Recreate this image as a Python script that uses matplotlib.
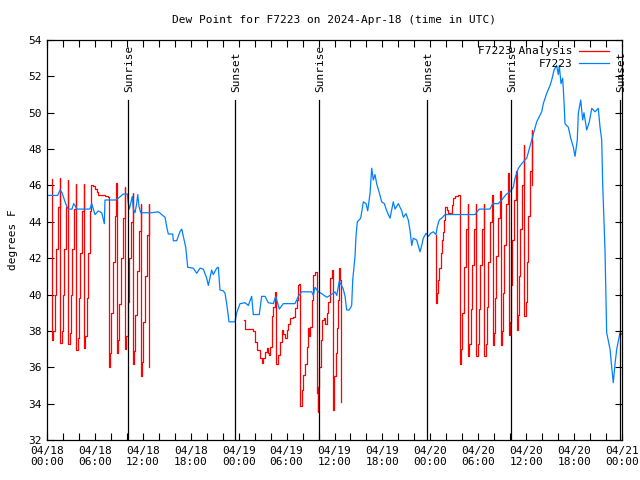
import matplotlib
matplotlib.use("Agg")
import matplotlib.pyplot as plt
from matplotlib.ticker import MultipleLocator, FixedLocator
from matplotlib.lines import Line2D

plt.rcParams['font.family'] = ['DejaVu Sans Mono']

title = "Dew Point for F7223 on 2024-Apr-18 (time in UTC)"
ylabel = "degrees F"

# x values are hours since 04/18 00:00 UTC
obs_hours = [0, 1.34, 1.63, 1.88, 2.34, 2.63, 3.13, 3.34, 3.51, 3.72, 5.38, 5.6, 6.01, 6.42, 6.85, 7.01,
             7.18, 7.26, 8.6, 8.93, 9.55, 10.06, 10.18, 10.31, 10.68, 10.81, 11.02, 11.23, 11.36, 11.52,
             11.73, 13.11, 13.94, 14.78, 14.99, 15.19, 15.74, 15.82, 16.24, 16.65, 16.87, 17.37, 17.62,
             18.32, 18.75, 19.16, 19.57, 20.0, 20.2, 20.62, 20.82, 21.25, 21.45, 21.66, 22.08, 22.29,
             22.5, 22.79, 23.54, 23.75, 24.17, 24.79, 25.21, 25.63, 25.83, 26.58, 26.88, 27.3, 27.71,
             28.34, 28.64, 29.09, 29.59, 31.05, 31.47, 31.89, 33.15, 33.35, 33.56, 33.97, 34.4, 35.02,
             35.44, 36.06, 36.28, 36.6, 37.1, 37.32, 37.53, 37.85, 38.15, 38.28, 38.57, 38.69, 38.86,
             39.28, 39.61, 39.95, 40.16, 40.45, 40.66, 40.86, 41.07, 41.28, 41.61, 41.91, 42.24, 42.54,
             42.95, 43.36, 43.58, 43.99, 44.42, 44.62, 44.95, 45.24, 45.45, 45.67, 45.87, 46.29, 46.49,
             46.71, 46.92, 47.12, 47.46, 47.75, 48.05, 48.37, 48.71, 48.87, 49.12, 49.42, 49.84, 53.6,
             54.13, 55.47, 55.81, 56.51, 56.94, 57.48, 57.98, 58.39, 58.6, 59.02, 59.44, 60.07, 60.69,
             61.32, 61.95, 62.15, 62.57, 62.99, 63.2, 63.49, 63.82, 64.02, 64.15, 64.36, 64.57, 64.74,
             64.86, 65.28, 65.58, 65.91, 66.12, 66.4, 66.53, 66.83, 67.08, 67.24, 67.58, 67.91, 68.21,
             68.62, 69.03, 69.25, 69.46, 69.58, 69.87, 70.08, 70.5, 70.71, 70.91, 71.13, 71.34, 71.75, 72.0]
obs_values = [45.45, 45.45, 45.75, 45.6, 45.0, 44.7, 44.7, 45.0, 44.9, 44.7, 44.7, 45.0, 44.4, 44.6, 44.5, 44.2,
              43.9, 45.2, 45.2, 45.3, 45.53, 45.53, 45.0, 44.7, 45.4, 44.7, 44.5, 45.0, 45.5, 44.85,
              44.5, 44.5, 44.55, 44.25, 43.73, 43.33, 43.33, 42.96, 42.96, 43.46, 43.6, 42.6, 41.5,
              41.45, 41.17, 41.45, 41.4, 40.9, 40.5, 41.35, 41.1, 41.45, 41.5, 40.25, 40.2, 40.07,
              39.5, 38.5, 38.5, 39.0, 39.5, 39.55, 39.4, 39.9, 38.9, 38.9, 39.9, 39.9, 39.55,
              39.5, 39.9, 39.2, 39.5, 39.5, 39.9, 40.15, 40.15, 39.95, 40.4, 40.15, 40.05, 39.85,
              39.95, 40.15, 39.95, 40.75, 40.3, 39.9, 39.15, 39.15, 39.4, 40.8, 42.1, 43.2, 44.0,
              44.2, 45.1, 45.0, 44.6, 45.57, 46.95, 46.3, 46.6, 46.1, 45.6, 45.1, 45.0, 44.6,
              44.2, 45.1, 44.7, 45.0, 44.6, 44.25, 44.45, 44.1, 43.55, 42.7, 43.1, 43.0, 42.7,
              42.35, 42.7, 43.1, 43.37, 43.2, 43.37, 43.45, 43.3, 43.73, 44.1, 44.2, 44.4, 44.4,
              44.7, 44.7, 45.0, 45.0, 45.2, 45.5, 45.66, 45.9, 46.4, 46.94, 47.2, 47.5, 48.5,
              49.5, 50.06, 50.5, 51.07, 51.5, 51.8, 52.35, 52.6, 52.1, 52.6, 51.6, 51.9, 50.6,
              49.4, 49.2, 48.6, 48.1, 47.6, 48.5, 49.97, 50.7, 49.6, 50.0, 49.05, 49.5, 50.24,
              50.05, 50.24, 49.2, 48.5, 46.1, 42.45, 37.9, 37.0, 36.0, 35.15, 36.2, 37.0, 37.9, 37.8]

ana1_hours = [0.62, 0.66, 0.8, 0.95, 1.15, 1.4, 1.65,
              1.69, 1.83, 1.98, 2.18, 2.43, 2.65,
              2.69, 2.83, 2.98, 3.18, 3.43, 3.65,
              3.69, 3.83, 3.98, 4.18, 4.43, 4.63,
              4.67, 4.81, 4.96, 5.16, 5.41, 5.57,
              5.8, 6.0, 6.2, 6.42, 6.85, 7.26, 7.7,
              7.76, 7.9, 8.05, 8.25, 8.5, 8.7,
              8.77, 8.91, 9.06, 9.26, 9.51, 9.74,
              9.8, 9.94, 10.09, 10.29, 10.54, 10.72,
              10.77, 10.91, 11.06, 11.26, 11.51, 11.72,
              11.77, 11.91, 12.06, 12.26, 12.51, 12.72,
              12.77]
ana1_values = [46.35, 37.5, 38.0, 40.0, 42.5, 44.8, 46.4,
               37.35, 38.0, 40.0, 42.5, 44.8, 46.3,
               37.3, 37.9, 40.0, 42.5, 44.7, 46.1,
               36.95, 37.6, 39.8, 42.3, 44.6, 46.1,
               37.05, 37.7, 39.8, 42.3, 44.6, 46.0,
               45.97, 45.8, 45.65, 45.5, 45.47, 45.4, 45.35,
               36.0, 36.8, 39.0, 41.8, 44.3, 46.15,
               36.8, 37.5, 39.5, 42.0, 44.2, 45.9,
               37.0, 37.7, 39.6, 42.0, 44.0, 45.6,
               36.2, 36.9, 38.9, 41.3, 43.5, 45.0,
               35.5, 36.3, 38.5, 41.0, 43.3, 45.0,
               36.0]

ana2_hours = [24.71, 24.79, 25.83, 26.05, 26.34, 26.67, 26.88, 27.08, 27.3, 27.59, 27.71, 27.84, 27.92,
              28.14, 28.34, 28.55, 28.68, 28.97, 29.18, 29.39, 29.59, 29.8, 30.01, 30.22, 30.43, 30.84,
              31.05, 31.27, 31.47, 31.6, 31.68, 31.89, 32.09, 32.31, 32.52, 32.72, 32.85, 32.93, 33.15,
              33.35, 33.56, 33.77, 33.9, 33.97, 34.1, 34.27, 34.47, 34.68, 34.81, 35.02, 35.22, 35.44,
              35.65, 35.77, 35.94, 36.19, 36.35, 36.48, 36.6, 36.75, 36.81]
ana2_values = [38.6, 38.1, 38.0, 37.4, 36.95, 36.5, 36.25, 36.5, 36.85, 37.05, 36.8, 36.7, 37.1,
               38.8, 39.33, 40.15, 36.2, 36.7, 37.4, 38.05, 37.85, 37.6, 38.05, 38.4, 38.7, 38.75,
               39.25, 39.7, 40.5, 40.6, 33.85, 34.75, 35.6, 36.2, 37.1, 38.15, 37.7, 38.2, 39.7,
               41.1, 41.26, 34.6, 33.55, 34.9, 36.0, 37.5, 38.6, 38.7, 38.4, 39.0, 39.6, 40.9,
               41.35, 33.65, 35.5, 36.8, 38.15, 39.7, 41.45, 40.8, 34.1]

ana3_hours = [48.67, 48.73, 48.87, 49.0, 49.12, 49.3, 49.42, 49.55, 49.71, 49.84, 50.05, 50.25, 50.55,
              50.68, 50.8, 51.09, 51.5, 51.68,
              51.71, 51.85, 52.0, 52.2, 52.45, 52.7,
              52.75, 52.89, 53.04, 53.24, 53.49, 53.72,
              53.78, 53.92, 54.07, 54.27, 54.52, 54.72,
              54.78, 54.92, 55.07, 55.27, 55.52, 55.73,
              55.79, 55.93, 56.08, 56.28, 56.53, 56.73,
              56.79, 56.93, 57.08, 57.28, 57.53, 57.73,
              57.79, 57.93, 58.08, 58.28, 58.53, 58.73,
              58.79, 58.93, 59.08, 59.28, 59.53, 59.73,
              59.79, 59.93, 60.08, 60.28, 60.53, 60.73,
              60.78]
ana3_values = [43.3, 39.55, 40.07, 40.8, 41.45, 42.3, 43.0, 43.46, 44.1, 44.83, 44.65, 44.5, 44.47,
               44.9, 45.3, 45.4, 45.47, 45.47,
               36.2, 37.0, 39.0, 41.5, 43.6, 45.0,
               36.6, 37.3, 39.2, 41.6, 43.6, 45.0,
               36.6, 37.3, 39.2, 41.6, 43.6, 45.0,
               36.6, 37.3, 39.3, 41.8, 44.0, 45.5,
               37.2, 37.9, 39.8, 42.1, 44.2, 45.7,
               37.2, 38.0, 40.1, 42.7, 45.0, 46.7,
               37.8, 38.5, 40.5, 43.0, 45.2, 46.8,
               38.05, 38.9, 41.0, 43.6, 46.0, 48.2,
               38.8, 39.6, 41.8, 44.3, 46.8, 49.05,
               46.0]

sun_hours = [10.14, 23.54, 34.06, 47.58, 58.1, 71.75]
sun_labels = ["Sunrise", "Sunset", "Sunrise", "Sunset", "Sunrise", "Sunset"]

xtick_hours = [0, 6, 12, 18, 24, 30, 36, 42, 48, 54, 60, 66, 72]
xtick_labels = ["04/18\n00:00", "04/18\n06:00", "04/18\n12:00", "04/18\n18:00",
                "04/19\n00:00", "04/19\n06:00", "04/19\n12:00", "04/19\n18:00",
                "04/20\n00:00", "04/20\n06:00", "04/20\n12:00", "04/20\n18:00",
                "04/21\n00:00"]

RED = "#ff0000"
BLUE = "#0080ff"
FS = 8

fig = plt.figure(figsize=(6.4, 4.8), dpi=100)
ax = fig.add_axes([47/640, 1-440/480, 575/640, 400/480])

for hh, vv in [(ana1_hours, ana1_values), (ana2_hours, ana2_values), (ana3_hours, ana3_values)]:
    ax.plot(hh, vv, color=RED, lw=0.9, drawstyle='steps-post')
ax.plot(obs_hours, obs_values, color=BLUE, lw=0.9)

line_top = 50.7
for h, lab in zip(sun_hours, sun_labels):
    ax.plot([h, h], [32, line_top], color='black', lw=0.9)
    ax.text(h + 0.1, line_top + 0.45, lab, rotation=90, ha='center', va='bottom', fontsize=FS)

ax.set_xlim(0, 72)
ax.set_ylim(32, 54)
ax.xaxis.set_major_locator(FixedLocator(xtick_hours))
ax.set_xticklabels(xtick_labels)
ax.xaxis.set_minor_locator(MultipleLocator(2))
ax.yaxis.set_major_locator(MultipleLocator(2))
ax.tick_params(which='both', direction='in', top=True, right=True, length=5, width=0.8, labelsize=FS)
ax.tick_params(axis='x', pad=4)
for s in ax.spines.values():
    s.set_linewidth(0.9)

ax.set_title(title, fontsize=FS, pad=12)
ax.set_ylabel(ylabel, fontsize=FS, labelpad=8)

handles = [Line2D([], [], color=RED, lw=0.9), Line2D([], [], color=BLUE, lw=0.9)]
ax.legend(handles, ["F7223 Analysis", "F7223"], loc='upper right', frameon=False, markerfirst=False,
          fontsize=FS, handlelength=2.7, handletextpad=0.55, labelspacing=0.2,
          borderaxespad=0.0, bbox_to_anchor=(0.985, 0.995))

fig.savefig("out.png", dpi=100)
